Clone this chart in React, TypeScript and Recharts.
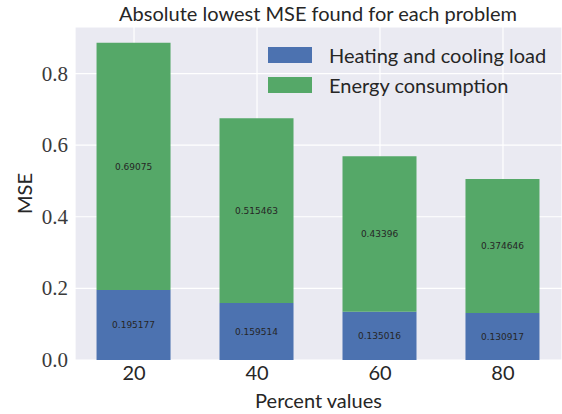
import React from 'react';
import { BarChart, Bar, XAxis, YAxis, CartesianGrid, LabelList } from 'recharts';

const categories = ['20', '40', '60', '80'];
const heating = [0.195177, 0.159514, 0.135016, 0.130917];
const energy = [0.69075, 0.515463, 0.43396, 0.374646];
const seriesNames = ['Heating and cooling load', 'Energy consumption'];
const yTicks = [0, 0.2, 0.4, 0.6, 0.8];

const data = categories.map((c, i) => ({ idx: i, cat: c, heating: heating[i], energy: energy[i] }));

const BLUE = '#4C72B0';
const GREEN = '#55A868';
const SANS = 'Lato, "Open Sans", sans-serif';
const SERIF = '"Liberation Serif", serif';
const TXT = '#262626';

const YTick = (p: any) => (
  <text x={p.x} y={p.y} dy={7} textAnchor="end" style={{ fontFamily: SERIF, fontSize: 21, fill: '#3a3a3a' }}>
    {Number(p.payload.value).toFixed(1)}
  </text>
);

const XTick = (p: any) => (
  <text x={p.x} y={p.y} dy={20} textAnchor="middle" style={{ fontFamily: SANS, fontSize: 20, fill: TXT }}>
    {categories[p.payload.value]}
  </text>
);

export default function App() {
  return (
    <div style={{ position: 'absolute', left: 0, top: 0, width: 562, height: 414, background: '#fff' }}>
      <BarChart width={562} height={414} data={data} margin={{ top: 27, right: 0, left: 0, bottom: 0 }}>
        <CartesianGrid fill="#EAEAF2" stroke="#FFFFFF" strokeWidth={1.2} />
        <XAxis
          type="number"
          dataKey="idx"
          domain={[-0.48, 3.48]}
          ticks={[0, 1, 2, 3]}
          axisLine={false}
          tickLine={false}
          tickSize={0}
          tickMargin={0}
          height={54}
          tick={<XTick />}
          label={{
            content: (p: any) => {
              const vb = p.viewBox;
              return (
                <text x={vb.x + vb.width / 2} y={408} textAnchor="middle" style={{ fontFamily: SANS, fontSize: 20, fill: TXT }}>
                  Percent values
                </text>
              );
            },
          }}
        />
        <YAxis
          domain={[0, 0.93]}
          ticks={yTicks}
          axisLine={false}
          tickLine={false}
          tickSize={0}
          tickMargin={7}
          width={75}
          tick={<YTick />}
          label={{
            content: (p: any) => {
              const vb = p.viewBox;
              const cy = vb.y + vb.height / 2;
              return (
                <text x={32} y={cy} transform={`rotate(-90 32 ${cy})`} textAnchor="middle" style={{ fontFamily: SANS, fontSize: 20, fill: TXT }}>
                  MSE
                </text>
              );
            },
          }}
        />
        <Bar dataKey="heating" stackId="a" fill={BLUE} barSize={74} isAnimationActive={false} name={seriesNames[0]}>
          <LabelList dataKey="heating" position="center" fontSize={9} fill={TXT} fontFamily='"DejaVu Sans", sans-serif' formatter={(v: any) => String(v)} />
        </Bar>
        <Bar dataKey="energy" stackId="a" fill={GREEN} barSize={74} isAnimationActive={false} name={seriesNames[1]}>
          <LabelList dataKey="energy" position="center" fontSize={9} fill={TXT} fontFamily='"DejaVu Sans", sans-serif' formatter={(v: any) => String(v)} />
        </Bar>
      </BarChart>
      <div style={{ position: 'absolute', left: 0, width: 636, top: 1, textAlign: 'center', fontFamily: SANS, fontSize: 20, color: TXT, whiteSpace: 'nowrap' }}>
        Absolute lowest MSE found for each problem
      </div>
      <div style={{ position: 'absolute', left: 268, top: 40, fontFamily: SANS, fontSize: 20, color: TXT }}>
        {[BLUE, GREEN].map((col, i) => (
          <div key={i} style={{ display: 'flex', alignItems: 'center', height: 30 }}>
            <div style={{ width: 44, height: 16, background: col, marginRight: 17 }} />
            <span style={{ whiteSpace: 'nowrap' }}>{seriesNames[i]}</span>
          </div>
        ))}
      </div>
    </div>
  );
}
